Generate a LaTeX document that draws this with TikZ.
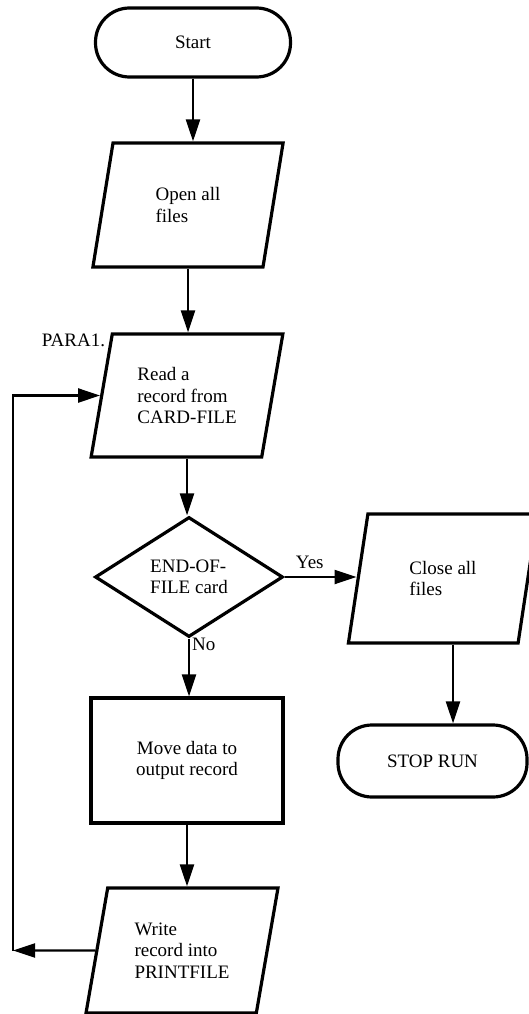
\documentclass[tikz,border=0pt]{standalone}
\usepackage{fontspec}
\setmainfont{Liberation Serif}
\usetikzlibrary{shapes.geometric,arrows.meta}
\tikzset{
  box/.style={draw, line width=3.2pt, inner sep=0pt, align=left, font=\fontsize{19}{21.5}\selectfont},
  term/.style={box, rectangle, rounded corners=34pt, align=center},
  io/.style={box, trapezium, trapezium left angle=76, trapezium right angle=104, trapezium stretches=true},
  proc/.style={box, rectangle, align=center},
  dec/.style={box, diamond},
  arr/.style={line width=2.2pt, -{Triangle[length=22pt,width=14pt]}},
  lbl/.style={font=\fontsize{19}{21.5}\selectfont, inner sep=0pt}
}
\begin{document}
\begin{tikzpicture}[x=1pt,y=-1pt]
\useasboundingbox (0,0) rectangle (528,1014);
\node[term, minimum width=195pt, minimum height=69pt] (start) at (193,42.5) {Start};
\node[io, minimum width=191pt, minimum height=124pt] (open) at (188,205) {Open all\\files};
\node[io, minimum width=192pt, minimum height=123pt] (read) at (187,395.5) {Read a\\record from\\CARD-FILE};
\node[lbl] (para) at (73.5,340) {PARA1.};
\node[dec, minimum width=188pt, minimum height=120pt] (eof) at (189,577) {END-OF-\\FILE card};
\node[io, minimum width=190pt, minimum height=129pt] (close) at (443,578.5) {Close all\\files};
\node[term, minimum width=189pt, minimum height=72pt] (stop) at (432.5,761) {STOP RUN};
\node[proc, minimum width=192pt, minimum height=125pt] (move) at (187,760.5) {Move data to\\output record};
\node[io, minimum width=192pt, minimum height=125pt] (write) at (182,950.5) {Write\\record into\\PRINTFILE};
\coordinate (lb) at (13,950.5);

\draw[arr] (start.south) -- (start.south |- open.north);
\draw[arr] (open.south) -- (open.south |- read.north);
\draw[arr] (read.south) -- (read.south |- eof.north);
\draw[arr] (eof.east) -- (eof.east -| close.west) node[lbl, pos=0.35, above=7pt] {Yes};
\draw[arr] (eof.south) -- (eof.south |- move.north) node[lbl, pos=0.1, right=2pt] {No};
\draw[arr] (move.south) -- (move.south |- write.north);
\draw[arr] ([xshift=10pt]close.south) -- ([xshift=10pt]close.south |- stop.north);
\draw[arr] (write.west) -- (lb);
\draw[arr] (lb) |- (read.west);
\end{tikzpicture}
\end{document}
